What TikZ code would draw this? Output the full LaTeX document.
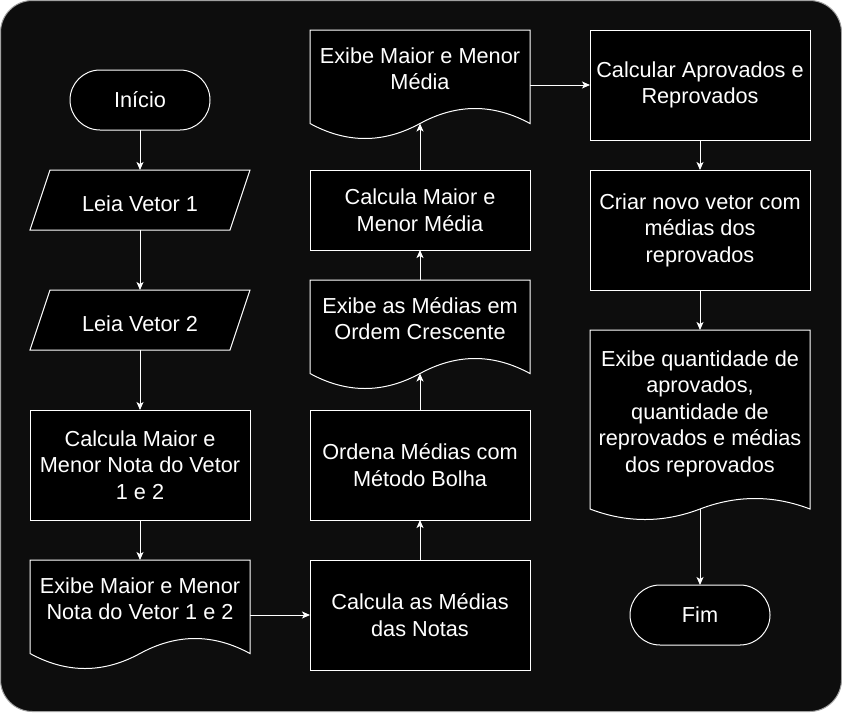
\documentclass[tikz,border=0pt]{standalone}
\usepackage{fontspec}
\setmainfont{Liberation Sans}
\usepackage{xcolor}
\usepackage{tikz}
\usetikzlibrary{arrows.meta, positioning, calc, backgrounds}
\definecolor{fundo}{RGB}{13,13,13}
\definecolor{borda}{RGB}{160,160,160}
\newcommand{\fnt}{\fontsize{21.7}{26.5}\selectfont}
\tikzset{
    blk/.style={draw=white, fill=black, text=white, align=center, font=\fnt,
                minimum width=220pt, inner sep=0pt, outer sep=0pt, line width=1pt},
    term/.style={blk, rounded corners=30pt, minimum width=140pt, minimum height=60pt},
    entr/.style={blk, draw=none, fill=none, minimum width=200pt, minimum height=60pt,
                 text height=23.5pt, text depth=0pt},
    doc/.style={blk, draw=none, fill=none},
    onda/.style={draw=white, fill=black, line width=1pt},
    arr/.style={-{Stealth[length=8pt, width=7pt, inset=2pt]}, white, line width=1pt},
}
% contorno de documento: no, prolongamento das laterais, amplitude da onda
\newcommand{\onda}[3]{%
    \draw[onda] ($(#1.south west)+(0,#2)$) -- (#1.north west) -- (#1.north east)
        -- ($(#1.south east)+(0,#2)$)
        .. controls +(-36.7,-#3) and +(36.7,-#3) .. ($(#1.south)+(0,#2)$) coordinate (#1-b)
        .. controls +(-36.7,#3) and +(36.7,#3) .. ($(#1.south west)+(0,#2)$) -- cycle;}
% contorno de entrada (paralelogramo)
\newcommand{\paral}[1]{%
    \draw[onda] ($(#1.north west)+(10,0)$) -- ($(#1.north east)+(10,0)$)
        -- ($(#1.south east)+(-10,0)$) -- ($(#1.south west)+(-10,0)$) -- cycle;}

\begin{document}
\begin{tikzpicture}[x=1pt, y=-1pt]
    \useasboundingbox (0,0) rectangle (842,712);
    \begin{scope}[on background layer]
        \draw[borda, fill=fundo, rounded corners=32pt, line width=1pt] (0.5,0.5) rectangle (841.5,711.5);
    \end{scope}
    % coluna 1
    \node[term] (ini) at (140,100) {Início};
    \node[entr, below=40pt of ini] (leia1) {Leia Vetor 1};
    \node[entr, below=60pt of leia1] (leia2) {Leia Vetor 2};
    \node[blk, minimum height=110pt, below=60pt of leia2] (notas) {Calcula Maior e\\Menor Nota do Vetor\\1 e 2};
    \node[doc, minimum height=77pt, below=40pt of notas] (exnotas) {Exibe Maior e Menor\\Nota do Vetor 1 e 2};
    % coluna 2
    \node[blk, minimum height=110pt] (medias) at (420,615) {Calcula as Médias\\das Notas};
    \node[blk, minimum height=110pt, above=40pt of medias] (bolha) {Ordena Médias com\\Método Bolha};
    \node[doc, minimum height=77pt, above=53pt of bolha] (excres) {Exibe as Médias em\\Ordem Crescente};
    \node[blk, minimum height=80pt, above=30pt of excres] (maior) {Calcula Maior e\\Menor Média};
    \node[doc, minimum height=77pt, above=63pt of maior] (exmaior) {Exibe Maior e Menor\\Média};
    % coluna 3
    \node[blk, minimum height=110pt] (aprov) at (700,85) {Calcular Aprovados e\\Reprovados};
    \node[blk, minimum height=120pt, below=30pt of aprov] (novo) {Criar novo vetor com\\médias dos\\reprovados};
    \node[doc, minimum height=167pt, below=40pt of novo] (exquant) {Exibe quantidade de\\aprovados,\\quantidade de\\reprovados e médias\\dos reprovados};
    \node[term] (fim) at (700,615) {Fim};
    \begin{scope}[on background layer]
        \paral{leia1}
        \paral{leia2}
        \onda{exnotas}{16.5}{20}
        \onda{excres}{16.5}{20}
        \onda{exmaior}{16.5}{20}
        \onda{exquant}{12}{14}
    \end{scope}
    \draw[arr] (ini) -- (leia1);
    \draw[arr] (leia1) -- (leia2);
    \draw[arr] (leia2) -- (notas);
    \draw[arr] (notas) -- (exnotas);
    \draw[arr] (exnotas.east |- medias) -- (medias);
    \draw[arr] (medias) -- (bolha);
    \draw[arr] (bolha) -- (excres-b);
    \draw[arr] (excres) -- (maior);
    \draw[arr] (maior) -- (exmaior-b);
    \draw[arr] (exmaior.east |- aprov) -- (aprov);
    \draw[arr] (aprov) -- (novo);
    \draw[arr] (novo) -- (exquant);
    \draw[arr] (exquant-b) -- (fim);
\end{tikzpicture}
\end{document}
